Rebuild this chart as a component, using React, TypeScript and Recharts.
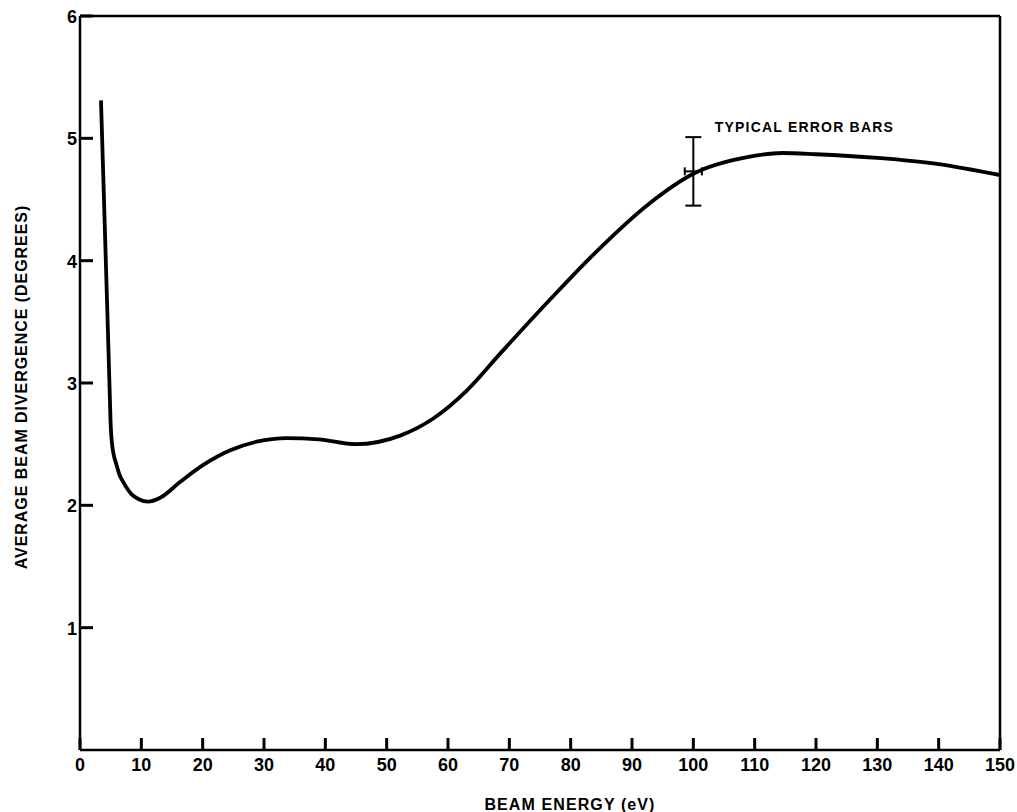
import React from 'react';
import {
  ComposedChart,
  Line,
  Scatter,
  ErrorBar,
  XAxis,
  YAxis,
  Label,
  ReferenceDot,
  ReferenceLine,
} from 'recharts';

// Beam energy (eV) and average beam divergence (degrees)
const energy = [3.42, 3.91, 4.4, 4.88, 4.97, 5.09, 5.25, 5.51, 5.9, 6.44, 7.06, 8.42, 9.6, 11.1, 13.0, 16.3, 20.1, 24.5, 28.8, 33.7, 38.9, 45.0, 52.2, 57.6, 63.1, 68.5, 76.6, 83.7, 92.9, 100, 109.2, 114.5, 120, 130, 140, 150];
const divergence = [5.31, 4.5, 3.68, 2.86, 2.7, 2.58, 2.49, 2.41, 2.34, 2.25, 2.19, 2.09, 2.05, 2.03, 2.06, 2.19, 2.33, 2.45, 2.52, 2.55, 2.54, 2.5, 2.57, 2.71, 2.94, 3.24, 3.68, 4.05, 4.47, 4.71, 4.85, 4.88, 4.87, 4.84, 4.79, 4.7];

// Typical error bar
const errX = [100];
const errY = [4.73];
const errYSize = [0.28];
const errXSize = [1.4];

const xTicks = [0, 10, 20, 30, 40, 50, 60, 70, 80, 90, 100, 110, 120, 130, 140, 150];
const yTicks = [1, 2, 3, 4, 5, 6];
const xMax = 150;
const yMax = 6;

const xTitle = 'BEAM ENERGY (eV)';
const yTitle = 'AVERAGE BEAM DIVERGENCE (DEGREES)';
const annotation = 'TYPICAL ERROR BARS';

const curveData = energy.map((x, i) => ({ x, y: divergence[i] }));
const errorData = errX.map((x, i) => ({ x, y: errY[i], ey: errYSize[i], ex: errXSize[i] }));

const FONT = '"Liberation Sans", Arial, Helvetica, sans-serif';

const XTick = (props: any) => {
  const { x, y, payload } = props;
  return (
    <g>
      <path d={`M${x},${y}L${x},${y - 12}`} stroke="#000" strokeWidth={3} fill="none" />
      <text x={x} y={y + 21} textAnchor="middle" fontSize={18} fontWeight="bold" fontFamily={FONT} fill="#000">
        {payload.value}
      </text>
    </g>
  );
};

const YTick = (props: any) => {
  const { x, y, payload } = props;
  return (
    <g>
      <path d={`M${x},${y}L${x + 13},${y}`} stroke="#000" strokeWidth={3} fill="none" />
      <text x={x - 3} y={y + 7} textAnchor="end" fontSize={18} fontWeight="bold" fontFamily={FONT} fill="#000">
        {payload.value}
      </text>
    </g>
  );
};

const XTitle = (props: any) => {
  const vb = props.viewBox || { x: 80, y: 750, width: 920, height: 62 };
  return (
    <text
      x={vb.x + vb.width / 2 + 30}
      y={vb.y + vb.height - 2}
      textAnchor="middle"
      fontSize={16}
      fontWeight="bold"
      letterSpacing={1.1}
      fontFamily={FONT}
      fill="#000"
    >
      {xTitle}
    </text>
  );
};

const YTitle = (props: any) => {
  const vb = props.viewBox || { x: 0, y: 16, width: 80, height: 734 };
  const cx = vb.x + 21;
  const cy = vb.y + vb.height / 2 + 4;
  return (
    <text
      x={cx}
      y={cy}
      transform={`rotate(-90, ${cx}, ${cy})`}
      textAnchor="middle"
      dominantBaseline="central"
      fontSize={16}
      fontWeight="bold"
      letterSpacing={0.95}
      fontFamily={FONT}
      fill="#000"
    >
      {yTitle}
    </text>
  );
};

const AnnotationLabel = (props: any) => {
  const vb = props.viewBox || { x: 0, y: 0 };
  return (
    <text
      x={vb.x}
      y={vb.y + 5}
      fontSize={14}
      fontWeight="bold"
      letterSpacing={1.2}
      fontFamily={FONT}
      fill="#000"
    >
      {annotation}
    </text>
  );
};

const axisStroke = { stroke: '#000', strokeWidth: 2.5 };

export default function App() {
  return (
    <div style={{ position: 'absolute', left: 0, top: 0, background: '#fff' }}>
      <ComposedChart width={1017} height={812} margin={{ top: 16, right: 17, bottom: 0, left: 0 }}>
        <ReferenceLine y={yMax} stroke="#000" strokeWidth={2.5} ifOverflow="visible" />
        <ReferenceLine x={xMax} stroke="#000" strokeWidth={2.5} ifOverflow="visible" />
        <XAxis
          dataKey="x"
          type="number"
          domain={[0, xMax]}
          ticks={xTicks}
          interval={0}
          height={62}
          tickSize={0}
          tickMargin={0}
          tickLine={false}
          axisLine={axisStroke}
          tick={<XTick />}
          allowDataOverflow
        >
          <Label content={<XTitle />} />
        </XAxis>
        <YAxis
          type="number"
          domain={[0, yMax]}
          ticks={yTicks}
          interval={0}
          width={80}
          tickSize={0}
          tickMargin={0}
          tickLine={false}
          axisLine={axisStroke}
          tick={<YTick />}
          allowDataOverflow
        >
          <Label content={<YTitle />} />
        </YAxis>
        <Line
          data={curveData}
          dataKey="y"
          type="monotone"
          stroke="#000"
          strokeWidth={3.8}
          dot={false}
          activeDot={false}
          isAnimationActive={false}
        />
        <Scatter data={errorData} dataKey="y" isAnimationActive={false} shape={() => <g />}>
          <ErrorBar dataKey="ey" direction="y" width={8} stroke="#000" strokeWidth={2} isAnimationActive={false} />
          <ErrorBar dataKey="ex" direction="x" width={4} stroke="#000" strokeWidth={2} isAnimationActive={false} />
        </Scatter>
        <ReferenceDot x={103.5} y={5.09} r={0} fill="none" stroke="none" label={<AnnotationLabel />} />
      </ComposedChart>
    </div>
  );
}
